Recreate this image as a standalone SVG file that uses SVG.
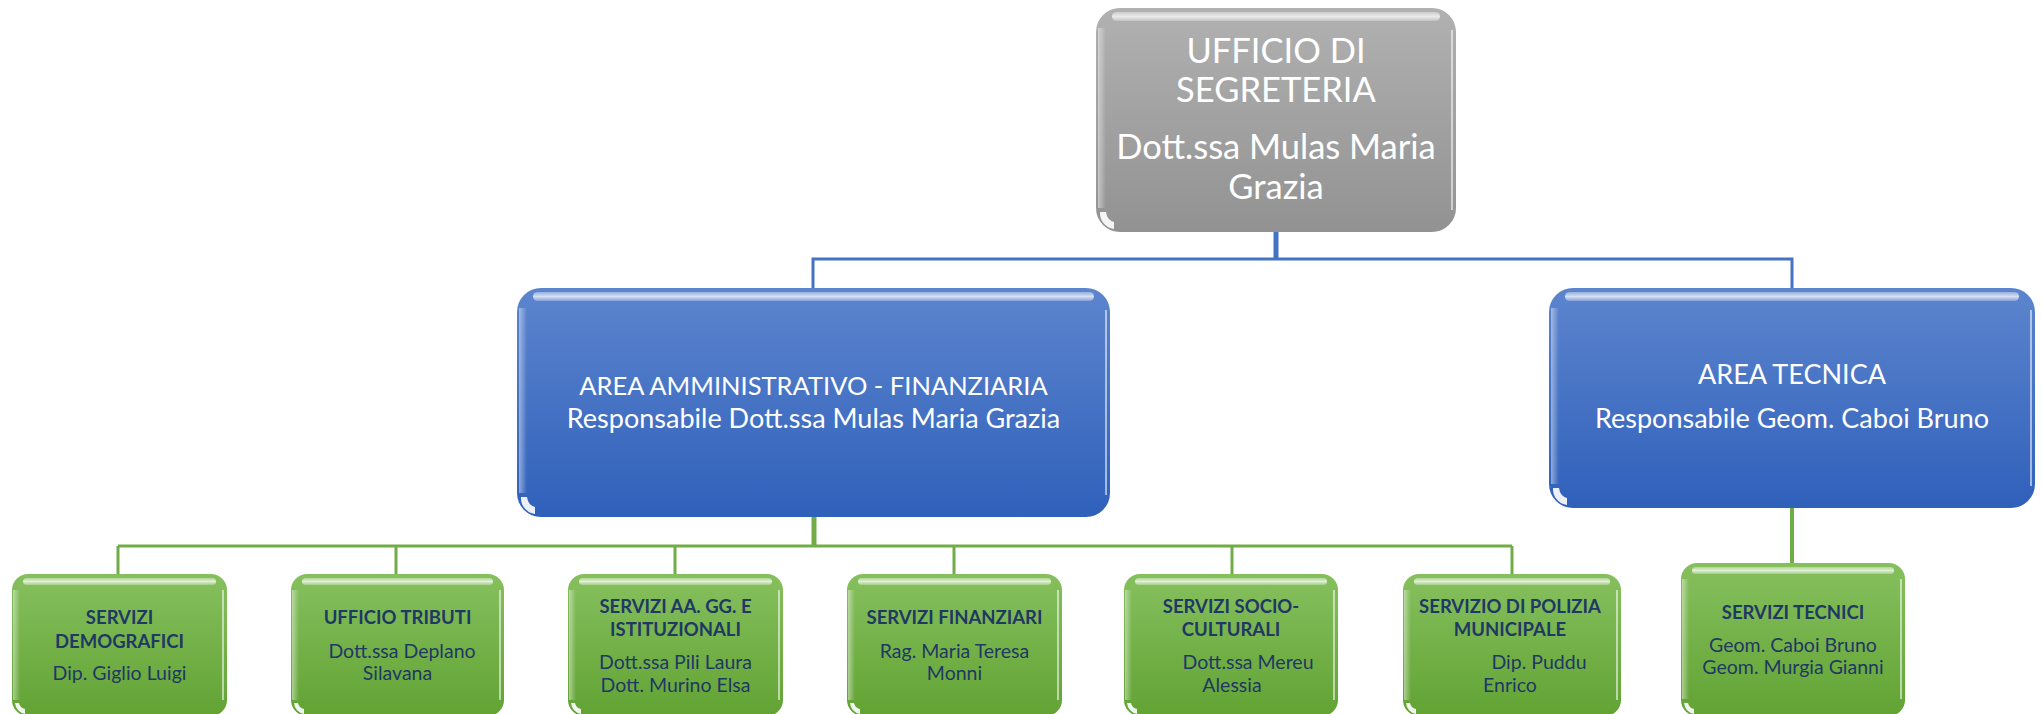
<svg xmlns="http://www.w3.org/2000/svg" width="2042" height="714" viewBox="0 0 2042 714">
<defs>
<linearGradient id="gGray" x1="0" y1="0" x2="0" y2="1"><stop offset="0" stop-color="#b1b1b1"/><stop offset="1" stop-color="#929292"/></linearGradient>
<linearGradient id="gBlue" x1="0" y1="0" x2="0" y2="1"><stop offset="0" stop-color="#5d85ce"/><stop offset="1" stop-color="#2f60ba"/></linearGradient>
<linearGradient id="gGreen" x1="0" y1="0" x2="0" y2="1"><stop offset="0" stop-color="#86c05e"/><stop offset="1" stop-color="#62a334"/></linearGradient>
<linearGradient id="gHi" x1="0" y1="0" x2="0" y2="1"><stop offset="0" stop-color="#ffffff" stop-opacity="0.35"/><stop offset="0.5" stop-color="#ffffff" stop-opacity="0.75"/><stop offset="1" stop-color="#ffffff" stop-opacity="0.25"/></linearGradient>
<linearGradient id="gEdge" x1="0" y1="0" x2="1" y2="0"><stop offset="0" stop-color="#ffffff" stop-opacity="0.45"/><stop offset="1" stop-color="#ffffff" stop-opacity="0"/></linearGradient>
</defs>
<style>
.hi{fill:url(#gHi)}
.edgeL{fill:url(#gEdge)}
.edgeR{fill:#ffffff;opacity:0.55}
.blob{fill:#ffffff;opacity:0.9}
.w{font-family:Lato,"Liberation Sans",sans-serif;fill:#ffffff;text-anchor:middle}
.t{font-family:Lato,"Liberation Sans",sans-serif;fill:#1f3864;text-anchor:middle;font-size:18.5px;font-weight:bold}
.n{font-family:Lato,"Liberation Sans",sans-serif;fill:#1f3864;text-anchor:middle;font-size:19.5px}
.cb{stroke:#4472c4;fill:none}
.cg{stroke:#70ad47;fill:none}
</style>

<g id="connectors">
<line class="cb" x1="1276" y1="232" x2="1276" y2="259" stroke-width="5"/>
<polyline class="cb" points="813,288 813,259 1792,259 1792,288" stroke-width="3"/>
<line class="cg" x1="814" y1="517" x2="814" y2="546" stroke-width="5"/>
<line class="cg" x1="118" y1="546" x2="1512" y2="546" stroke-width="3"/>
<line class="cg" x1="118" y1="546" x2="118" y2="574" stroke-width="3"/>
<line class="cg" x1="396" y1="546" x2="396" y2="574" stroke-width="3"/>
<line class="cg" x1="675" y1="546" x2="675" y2="574" stroke-width="3"/>
<line class="cg" x1="954" y1="546" x2="954" y2="574" stroke-width="3"/>
<line class="cg" x1="1232" y1="546" x2="1232" y2="574" stroke-width="3"/>
<line class="cg" x1="1512" y1="546" x2="1512" y2="574" stroke-width="3"/>
<line class="cg" x1="1792" y1="508" x2="1792" y2="563" stroke-width="4"/>
</g>

<g id="n-segreteria">
<rect x="1096" y="8" width="360" height="224" rx="24" fill="url(#gGray)"/>
<rect class="hi" x="1112" y="12" width="328" height="9" rx="4.5"/>
<rect class="edgeL" x="1098" y="28" width="8" height="180"/>
<rect class="edgeR" x="1451" y="30" width="2" height="180"/>
<path class="blob" d="M1100,212 A16 16 0 0 0 1114,229 L1114,222 Q1107,220 1106,212 Z"/>
<text class="w" font-size="34.5" x="1276" y="63">UFFICIO DI</text>
<text class="w" font-size="34.5" x="1276" y="102">SEGRETERIA</text>
<text class="w" font-size="34.5" x="1276" y="159">Dott.ssa Mulas Maria</text>
<text class="w" font-size="34.5" x="1276" y="199">Grazia</text>
</g>

<g id="n-area-amm">
<rect x="517" y="288" width="593" height="229" rx="24" fill="url(#gBlue)"/>
<rect class="hi" x="533" y="292" width="561" height="9" rx="4.5"/>
<rect class="edgeL" x="519" y="308" width="8" height="185"/>
<rect class="edgeR" x="1105" y="310" width="2" height="185"/>
<path class="blob" d="M521,497 A16 16 0 0 0 535,514 L535,507 Q528,505 527,497 Z"/>
<text class="w" font-size="25.5" x="813.5" y="395">AREA AMMINISTRATIVO - FINANZIARIA</text>
<text class="w" font-size="27" x="813.5" y="428">Responsabile Dott.ssa Mulas Maria Grazia</text>
</g>

<g id="n-area-tec">
<rect x="1549" y="288" width="486" height="220" rx="24" fill="url(#gBlue)"/>
<rect class="hi" x="1565" y="292" width="454" height="9" rx="4.5"/>
<rect class="edgeL" x="1551" y="308" width="8" height="176"/>
<rect class="edgeR" x="2030" y="310" width="2" height="176"/>
<path class="blob" d="M1553,488 A16 16 0 0 0 1567,505 L1567,498 Q1560,496 1559,488 Z"/>
<text class="w" font-size="27" x="1792" y="384">AREA TECNICA</text>
<text class="w" font-size="27" x="1792" y="428">Responsabile Geom. Caboi Bruno</text>
</g>

<g id="n-demografici">
<rect x="12" y="574" width="215" height="142" rx="16" fill="url(#gGreen)"/>
<rect class="hi" x="23" y="578" width="193" height="7" rx="3.5"/>
<rect class="edgeL" x="13" y="590" width="7" height="110"/>
<rect class="edgeR" x="222" y="590" width="2" height="110"/>
<path class="blob" d="M15,703 A12 12 0 0 0 25,714 L25,709 Q20,708 19,703 Z"/>
<text class="t" x="119.5" y="624">SERVIZI</text>
<text class="t" x="119.5" y="648">DEMOGRAFICI</text>
<text class="n" x="119.5" y="680">Dip. Giglio Luigi</text>
</g>

<g id="n-tributi">
<rect x="291" y="574" width="213" height="142" rx="16" fill="url(#gGreen)"/>
<rect class="hi" x="302" y="578" width="191" height="7" rx="3.5"/>
<rect class="edgeL" x="292" y="590" width="7" height="110"/>
<rect class="edgeR" x="499" y="590" width="2" height="110"/>
<path class="blob" d="M294,703 A12 12 0 0 0 304,714 L304,709 Q299,708 298,703 Z"/>
<text class="t" x="397.5" y="624">UFFICIO TRIBUTI</text>
<text class="n" x="402" y="658">Dott.ssa Deplano</text>
<text class="n" x="397.5" y="680">Silavana</text>
</g>

<g id="n-aagg">
<rect x="568" y="574" width="215" height="142" rx="16" fill="url(#gGreen)"/>
<rect class="hi" x="579" y="578" width="193" height="7" rx="3.5"/>
<rect class="edgeL" x="569" y="590" width="7" height="110"/>
<rect class="edgeR" x="778" y="590" width="2" height="110"/>
<path class="blob" d="M571,703 A12 12 0 0 0 581,714 L581,709 Q576,708 575,703 Z"/>
<text class="t" x="675.5" y="613">SERVIZI AA. GG. E</text>
<text class="t" x="675.5" y="636">ISTITUZIONALI</text>
<text class="n" x="675.5" y="669">Dott.ssa Pili Laura</text>
<text class="n" x="675.5" y="692">Dott. Murino Elsa</text>
</g>

<g id="n-finanziari">
<rect x="847" y="574" width="215" height="142" rx="16" fill="url(#gGreen)"/>
<rect class="hi" x="858" y="578" width="193" height="7" rx="3.5"/>
<rect class="edgeL" x="848" y="590" width="7" height="110"/>
<rect class="edgeR" x="1057" y="590" width="2" height="110"/>
<path class="blob" d="M850,703 A12 12 0 0 0 860,714 L860,709 Q855,708 854,703 Z"/>
<text class="t" x="954.5" y="624">SERVIZI FINANZIARI</text>
<text class="n" x="954.5" y="658">Rag. Maria Teresa</text>
<text class="n" x="954.5" y="680">Monni</text>
</g>

<g id="n-socio">
<rect x="1124" y="574" width="214" height="142" rx="16" fill="url(#gGreen)"/>
<rect class="hi" x="1135" y="578" width="192" height="7" rx="3.5"/>
<rect class="edgeL" x="1125" y="590" width="7" height="110"/>
<rect class="edgeR" x="1333" y="590" width="2" height="110"/>
<path class="blob" d="M1127,703 A12 12 0 0 0 1137,714 L1137,709 Q1132,708 1131,703 Z"/>
<text class="t" x="1231" y="613">SERVIZI SOCIO-</text>
<text class="t" x="1231" y="636">CULTURALI</text>
<text class="n" x="1248" y="669">Dott.ssa Mereu</text>
<text class="n" x="1232" y="692">Alessia</text>
</g>

<g id="n-polizia">
<rect x="1403" y="574" width="218" height="142" rx="16" fill="url(#gGreen)"/>
<rect class="hi" x="1414" y="578" width="196" height="7" rx="3.5"/>
<rect class="edgeL" x="1404" y="590" width="7" height="110"/>
<rect class="edgeR" x="1616" y="590" width="2" height="110"/>
<path class="blob" d="M1406,703 A12 12 0 0 0 1416,714 L1416,709 Q1411,708 1410,703 Z"/>
<text class="t" x="1510" y="613">SERVIZIO DI POLIZIA</text>
<text class="t" x="1510" y="636">MUNICIPALE</text>
<text class="n" x="1539" y="669">Dip. Puddu</text>
<text class="n" x="1510" y="692">Enrico</text>
</g>

<g id="n-tecnici">
<rect x="1681" y="563" width="224" height="153" rx="16" fill="url(#gGreen)"/>
<rect class="hi" x="1692" y="567" width="202" height="7" rx="3.5"/>
<rect class="edgeL" x="1682" y="579" width="7" height="120"/>
<rect class="edgeR" x="1900" y="579" width="2" height="120"/>
<path class="blob" d="M1684,703 A12 12 0 0 0 1694,714 L1694,709 Q1689,708 1688,703 Z"/>
<text class="t" x="1793" y="619">SERVIZI TECNICI</text>
<text class="n" x="1793" y="652">Geom. Caboi Bruno</text>
<text class="n" x="1793" y="674">Geom. Murgia Gianni</text>
</g>
</svg>
